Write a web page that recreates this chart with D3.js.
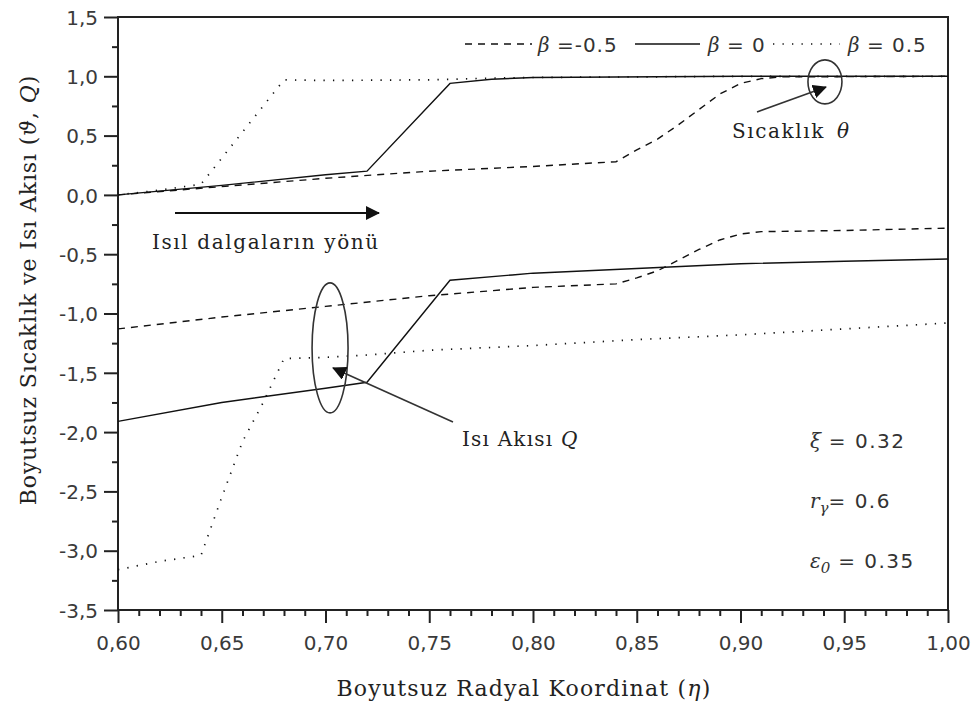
<!DOCTYPE html>
<html>
<head>
<meta charset="utf-8">
<script src="https://cdn.jsdelivr.net/npm/d3@7"></script>
<style>
  html, body { margin: 0; padding: 0; background: #fff; }
  svg { display: block; }
  .tick text { font-family: "DejaVu Sans", sans-serif; font-size: 20px; fill: #3a3a3a; }
  .serif { font-family: "DejaVu Serif", serif; fill: #222; }
  .sans { font-family: "DejaVu Sans", sans-serif; fill: #333; }
</style>
</head>
<body>
<svg id="chart" width="980" height="711"></svg>
<script>
// Radial coordinate samples and profiles for each β
// Temperature θ
const thetaEtaNeg = [0.60, 0.65, 0.70, 0.75, 0.80, 0.84, 0.85, 0.86, 0.87, 0.88, 0.89, 0.90, 0.91, 0.92, 1.00];
const thetaNeg    = [0.00, 0.07, 0.14, 0.20, 0.24, 0.28, 0.38, 0.47, 0.59, 0.72, 0.85, 0.94, 0.98, 0.995, 1.00];

const thetaEtaZero = [0.60, 0.65, 0.70, 0.72, 0.76, 0.78, 0.80, 0.90, 1.00];
const thetaZero    = [0.00, 0.08, 0.17, 0.20, 0.94, 0.975, 0.99, 1.00, 1.00];

const thetaEtaPos = [0.60, 0.62, 0.64, 0.68, 0.70, 0.75, 0.78, 0.80, 0.90, 1.00];
const thetaPos    = [0.00, 0.04, 0.09, 0.97, 0.965, 0.97, 0.985, 0.99, 1.00, 1.00];

// Heat flux Q
const fluxEtaNeg = [0.60, 0.65, 0.70, 0.75, 0.80, 0.84, 0.85, 0.86, 0.87, 0.88, 0.89, 0.90, 0.91, 0.95, 1.00];
const fluxNeg    = [-1.13, -1.03, -0.94, -0.85, -0.78, -0.75, -0.70, -0.64, -0.55, -0.46, -0.38, -0.33, -0.31, -0.30, -0.28];

const fluxEtaZero = [0.60, 0.65, 0.70, 0.72, 0.76, 0.79, 0.80, 0.85, 0.90, 0.95, 1.00];
const fluxZero    = [-1.91, -1.75, -1.63, -1.58, -0.72, -0.675, -0.66, -0.62, -0.58, -0.56, -0.54];

const fluxEtaPos = [0.60, 0.62, 0.64, 0.65, 0.66, 0.67, 0.68, 0.70, 0.72, 0.75, 0.80, 0.85, 0.90, 0.95, 1.00];
const fluxPos    = [-3.16, -3.09, -3.04, -2.55, -2.08, -1.75, -1.38, -1.37, -1.35, -1.31, -1.27, -1.22, -1.18, -1.13, -1.08];

// Axis ticks
const xMajor = [0.60, 0.65, 0.70, 0.75, 0.80, 0.85, 0.90, 0.95, 1.00];
const yMajor = [-3.5, -3.0, -2.5, -2.0, -1.5, -1.0, -0.5, 0.0, 0.5, 1.0, 1.5];

// Legend entries
const legendLabels = ["-0.5", "0", "0.5"];
const legendDash = ["7,6", null, "1.3,8.2"];

const svg = d3.select("#chart");
const L = 118, R = 948, T = 17, B = 610;

const x = d3.scaleLinear().domain([0.60, 1.00]).range([L, R]);
const y = d3.scaleLinear().domain([-3.5, 1.5]).range([B, T]);

const comma = f => v => f(v).replace(".", ",").replace("\u2212", "-");

// minor ticks
const xMinor = d3.range(0, 41).map(i => +(0.60 + i * 0.01).toFixed(2)).filter(v => !xMajor.some(m => Math.abs(m - v) < 1e-9));
const yMinor = d3.range(0, 10).map(i => -3.25 + i * 0.5);

const gx = svg.append("g").attr("transform", `translate(0,${B})`);
gx.call(d3.axisBottom(x).tickValues(xMinor).tickSize(6).tickFormat(""));
gx.call(g => g.select(".domain").remove());
const gxM = svg.append("g").attr("transform", `translate(0,${B})`)
  .call(d3.axisBottom(x).tickValues(xMajor).tickSize(13).tickSizeOuter(0).tickPadding(8).tickFormat(comma(d3.format(".2f"))));
gxM.select(".domain").remove();

const gy = svg.append("g").attr("transform", `translate(${L},0)`);
gy.call(d3.axisLeft(y).tickValues(yMinor).tickSize(6).tickFormat(""));
gy.call(g => g.select(".domain").remove());
const gyM = svg.append("g").attr("transform", `translate(${L},0)`)
  .call(d3.axisLeft(y).tickValues(yMajor).tickSize(14).tickSizeOuter(0).tickPadding(6).tickFormat(comma(d3.format(".1f"))));
gyM.select(".domain").remove();

svg.selectAll(".tick line").attr("stroke", "#222").attr("stroke-width", 2);
gxM.selectAll(".tick text").attr("dy", "0.95em");
gyM.selectAll(".tick text").attr("dy", "0.36em");

// frame
svg.append("rect").attr("x", L).attr("y", T).attr("width", R - L).attr("height", B - T)
  .attr("fill", "none").attr("stroke", "#222").attr("stroke-width", 2);

// data lines
const isDot = d => d === legendDash[2];
const line = d3.line().x(d => x(d[0])).y(d => y(d[1]));
const series = [
  { eta: thetaEtaNeg, v: thetaNeg, dash: legendDash[0] },
  { eta: thetaEtaZero, v: thetaZero, dash: legendDash[1] },
  { eta: thetaEtaPos, v: thetaPos, dash: legendDash[2] },
  { eta: fluxEtaNeg, v: fluxNeg, dash: legendDash[0] },
  { eta: fluxEtaZero, v: fluxZero, dash: legendDash[1] },
  { eta: fluxEtaPos, v: fluxPos, dash: legendDash[2] }
];
svg.append("g").selectAll("path").data(series).join("path")
  .attr("d", s => line(s.eta.map((e, i) => [e, s.v[i]])))
  .attr("fill", "none").attr("stroke", "#111")
  .attr("stroke-width", s => isDot(s.dash) ? 1.7 : 1.4)
  .attr("stroke-dasharray", s => s.dash);

// legend
const leg = svg.append("g");
const legItems = [
  { x1: 465, x2: 532, tx: 538 },
  { x1: 635, x2: 700, tx: 708 },
  { x1: 773, x2: 840, tx: 848 }
];
legItems.forEach((it, i) => {
  leg.append("line").attr("x1", it.x1).attr("x2", it.x2).attr("y1", 44).attr("y2", 44)
    .attr("stroke", "#111").attr("stroke-width", i === 2 ? 1.7 : 1.4)
    .attr("stroke-dasharray", legendDash[i]);
  const t = leg.append("text").attr("x", it.tx).attr("y", 52).attr("class", "sans").attr("font-size", 20);
  t.append("tspan").attr("font-family", "DejaVu Serif").attr("font-style", "italic").text("β");
  t.append("tspan").attr("letter-spacing", 1).text(i === 0 ? " =" + legendLabels[i] : " = " + legendLabels[i]);
});

// arrowhead
const defs = svg.append("defs");
defs.append("marker").attr("id", "head").attr("viewBox", "0 0 14 14")
  .attr("refX", 13).attr("refY", 7).attr("markerWidth", 14).attr("markerHeight", 14)
  .attr("markerUnits", "userSpaceOnUse").attr("orient", "auto")
  .append("path").attr("d", "M0,0 L14,7 L0,14 Z").attr("fill", "#111");

// wave direction arrow
svg.append("line").attr("x1", 175).attr("x2", 379).attr("y1", 213).attr("y2", 213)
  .attr("stroke", "#111").attr("stroke-width", 2).attr("marker-end", "url(#head)");
svg.append("text").attr("class", "serif").attr("x", 152).attr("y", 249)
  .attr("font-size", 20).attr("letter-spacing", 1.6).text("Isıl dalgaların yönü");

// temperature callout
svg.append("ellipse").attr("cx", x(0.9407)).attr("cy", y(0.953)).attr("rx", 17).attr("ry", 22)
  .attr("fill", "none").attr("stroke", "#333").attr("stroke-width", 1.6);
svg.append("line").attr("x1", 757).attr("y1", 112).attr("x2", 826).attr("y2", 87)
  .attr("stroke", "#333").attr("stroke-width", 1.6).attr("marker-end", "url(#head)");
const tt = svg.append("text").attr("class", "serif").attr("x", 732).attr("y", 138).attr("font-size", 20);
tt.append("tspan").attr("letter-spacing", 1.6).text("Sıcaklık ");
tt.append("tspan").attr("font-style", "italic").attr("dx", 4).text("θ");

// heat flux callout
svg.append("ellipse").attr("cx", x(0.7022)).attr("cy", y(-1.29)).attr("rx", 18).attr("ry", 65)
  .attr("fill", "none").attr("stroke", "#333").attr("stroke-width", 1.6);
svg.append("line").attr("x1", 453).attr("y1", 422).attr("x2", 333).attr("y2", 368)
  .attr("stroke", "#333").attr("stroke-width", 1.6).attr("marker-end", "url(#head)");
const qt = svg.append("text").attr("class", "serif").attr("x", 462).attr("y", 446).attr("font-size", 20);
qt.append("tspan").attr("letter-spacing", 1.2).text("Isı Akısı ");
qt.append("tspan").attr("font-style", "italic").text("Q");

// parameters
function param(yb, parts) {
  const t = svg.append("text").attr("class", "sans").attr("x", 810).attr("y", yb).attr("font-size", 20);
  parts.forEach(p => {
    const s = t.append("tspan").text(p.t);
    if (p.it) s.attr("font-family", "DejaVu Serif").attr("font-style", "italic");
    if (p.sub) s.attr("font-size", 15).attr("dy", 5);
    if (p.up) s.attr("dy", -5);
    if (p.ls) s.attr("letter-spacing", p.ls);
  });
}
param(448, [{ t: "ξ", it: true }, { t: " = 0.32", ls: 1.5 }]);
param(508, [{ t: "r", it: true }, { t: "γ", it: true, sub: true }, { t: "= 0.6", up: true, ls: 1.5 }]);
param(568, [{ t: "ε", it: true }, { t: "0", it: true, sub: true }, { t: " = 0.35", up: true, ls: 1.5 }]);

// axis titles
const xt = svg.append("text").attr("class", "serif").attr("x", (333 + 715) / 2).attr("y", 696)
  .attr("text-anchor", "middle").attr("font-size", 22).attr("letter-spacing", 1.2);
xt.append("tspan").text("Boyutsuz Radyal Koordinat (");
xt.append("tspan").attr("font-style", "italic").text("η");
xt.append("tspan").text(")");

const yt = svg.append("text").attr("class", "serif")
  .attr("transform", "translate(36,290) rotate(-90)")
  .attr("text-anchor", "middle").attr("font-size", 22).attr("letter-spacing", 0.9);
yt.append("tspan").text("Boyutsuz Sıcaklık ve Isı Akısı (");
yt.append("tspan").attr("font-style", "italic").text("ϑ");
yt.append("tspan").text(", ");
yt.append("tspan").attr("font-style", "italic").text("Q");
yt.append("tspan").text(")");
</script>
</body>
</html>
